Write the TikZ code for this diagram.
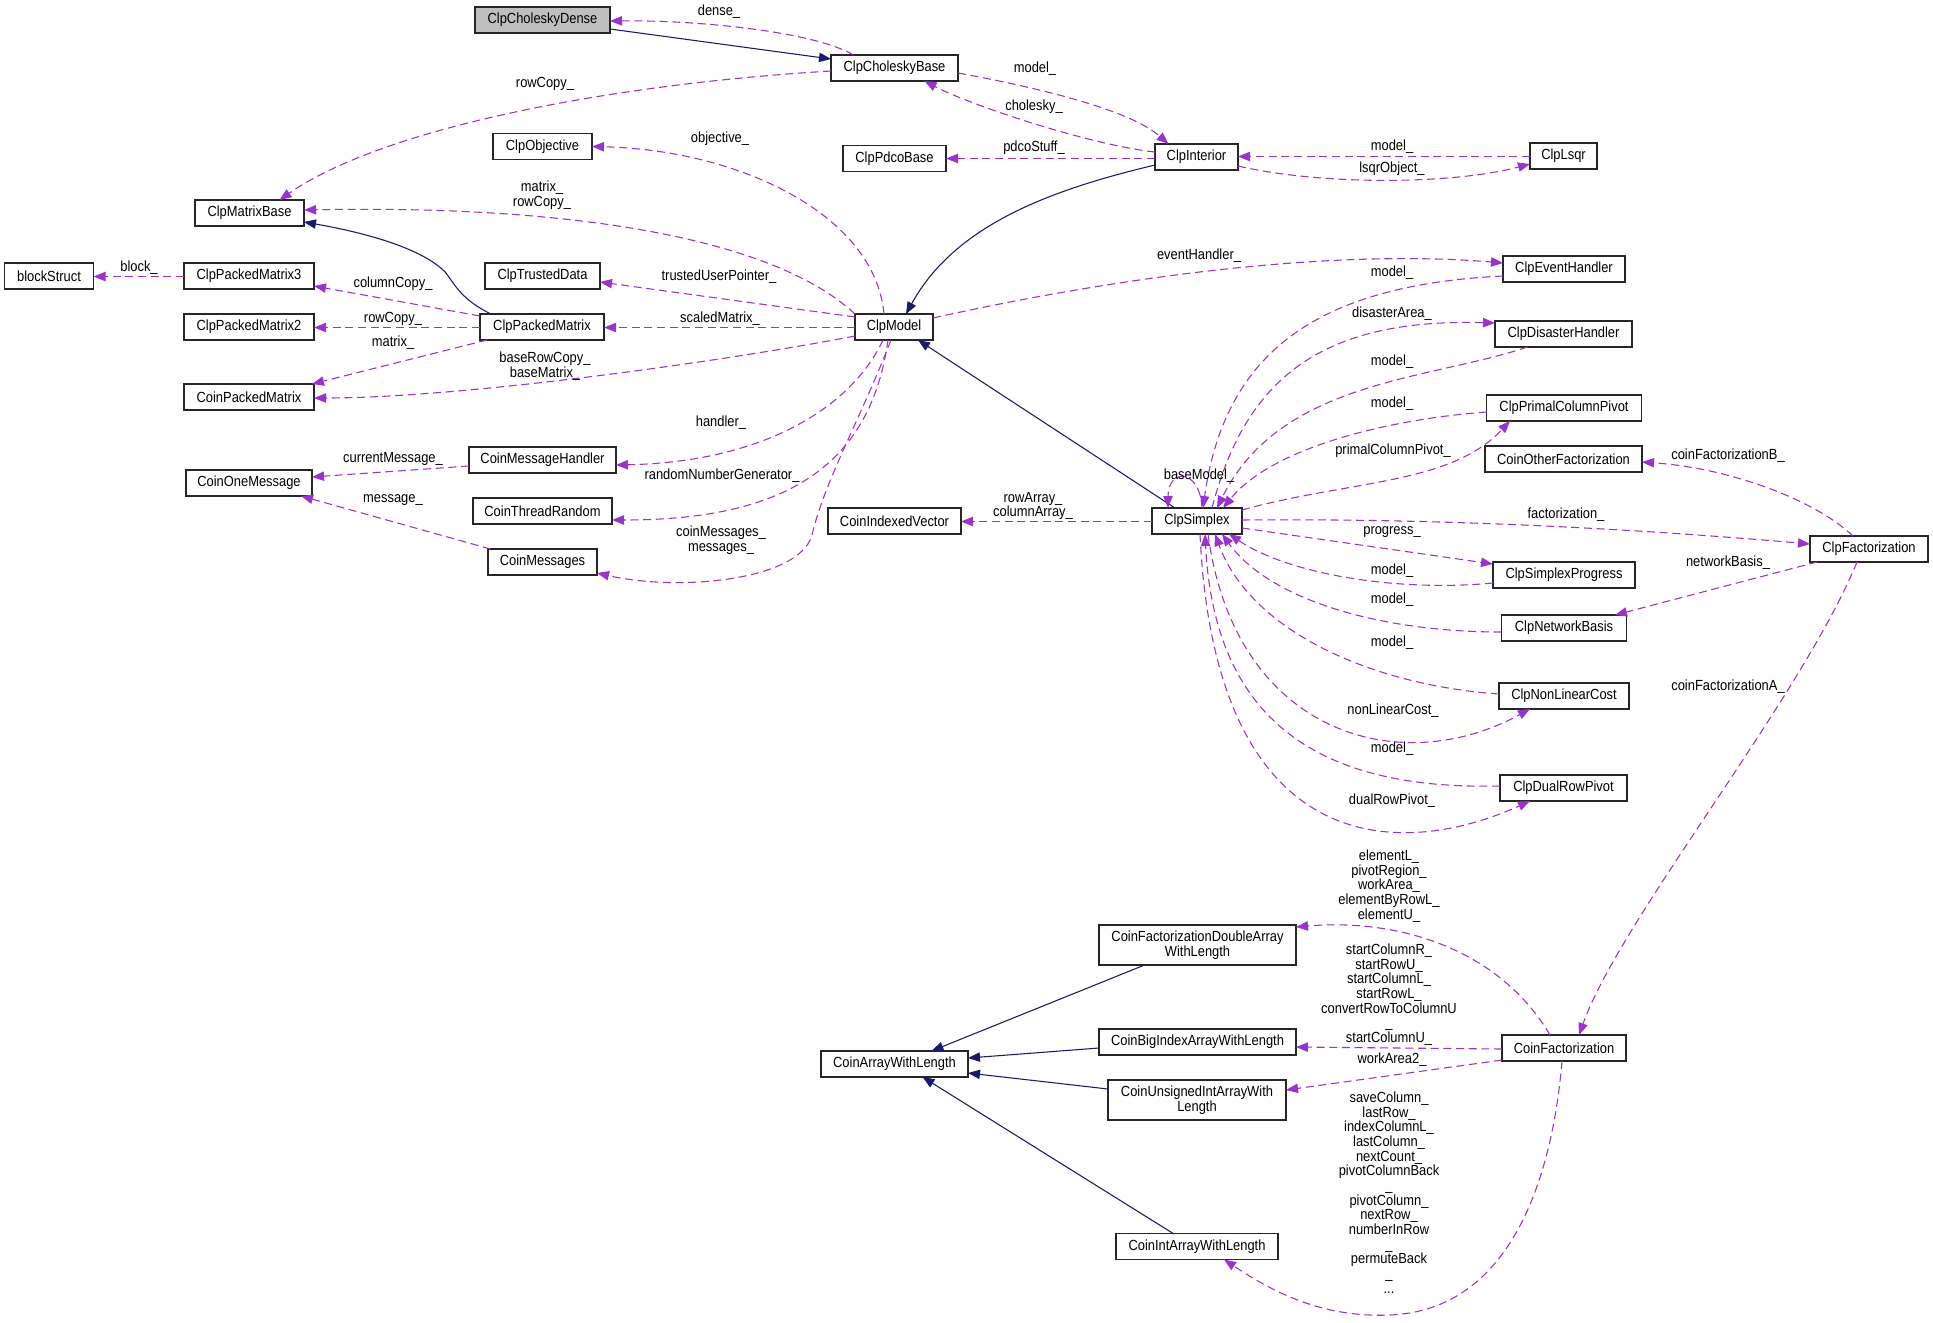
\documentclass[tikz,border=0pt]{standalone}
\usepackage{fontspec}
\setmainfont{Liberation Sans}[FakeStretch=0.88]
\usetikzlibrary{arrows.meta,calc}
\definecolor{purp}{HTML}{9A32CD}
\definecolor{navyb}{HTML}{191970}
\begin{document}
\begin{tikzpicture}[x=0.75pt,y=-0.75pt,
 every node/.style={font=\fontsize{11}{11}\selectfont},
 cls/.style={draw=black!85, line width=0.9pt, fill=white, inner sep=0pt, minimum height=19.5pt, minimum width=#1*0.75pt, align=center},
 clstwo/.style={cls=#1, minimum height=30pt},
 lab/.style={inner sep=0pt, align=center},
 inh/.style={draw=navyb, line width=0.8pt, -{Triangle[length=9pt,width=7pt]}},
 dep/.style={draw=purp, line width=0.8pt, dash pattern=on 6pt off 3.5pt, -{Triangle[length=9pt,width=7pt]}}]
\path[use as bounding box, fill=white] (0,0) rectangle (1933,1322);

% classes
\node[cls=135, fill=gray!50] (dense) at (542.5,20) {ClpCholeskyDense};
\node[cls=127] (cbase) at (894.5,68) {ClpCholeskyBase};
\node[cls=109] (mbase) at (249.5,213) {ClpMatrixBase};
\node[cls=99] (obj) at (542.5,146.5) {ClpObjective};
\node[cls=103] (pdco) at (894.5,158.5) {ClpPdcoBase};
\node[cls=83] (interior) at (1196.5,157) {ClpInterior};
\node[cls=67] (lsqr) at (1563.5,156) {ClpLsqr};
\node[cls=89] (block) at (49,276) {blockStruct};
\node[cls=130] (pm3) at (249,276) {ClpPackedMatrix3};
\node[cls=115] (trusted) at (542.5,276) {ClpTrustedData};
\node[cls=122] (event) at (1564,269) {ClpEventHandler};
\node[cls=130] (pm2) at (249,327) {ClpPackedMatrix2};
\node[cls=124] (packed) at (542,327) {ClpPackedMatrix};
\node[cls=78] (model) at (894,327) {ClpModel};
\node[cls=137] (disaster) at (1563.5,334) {ClpDisasterHandler};
\node[cls=130] (cpm) at (249,397) {CoinPackedMatrix};
\node[cls=155] (pcp) at (1564,408) {ClpPrimalColumnPivot};
\node[cls=147] (cmh) at (542.5,460) {CoinMessageHandler};
\node[cls=126] (com) at (249,483) {CoinOneMessage};
\node[cls=157] (cof) at (1563.5,459) {CoinOtherFactorization};
\node[cls=139] (ctr) at (542.5,511) {CoinThreadRandom};
\node[cls=133] (civ) at (894.5,521) {CoinIndexedVector};
\node[cls=90] (simplex) at (1197,521) {ClpSimplex};
\node[cls=118] (cfact) at (1869,549) {ClpFactorization};
\node[cls=109] (cmsg) at (542.5,562) {CoinMessages};
\node[cls=142] (sp) at (1564,575) {ClpSimplexProgress};
\node[cls=125] (nb) at (1564,628) {ClpNetworkBasis};
\node[cls=130] (nlc) at (1564,696) {ClpNonLinearCost};
\node[cls=127] (drp) at (1563.5,788) {ClpDualRowPivot};
\node[clstwo=197] (cfd) at (1197.5,945) {CoinFactorizationDoubleArray\\WithLength};
\node[cls=197] (cbia) at (1197.5,1042) {CoinBigIndexArrayWithLength};
\node[cls=147] (cawl) at (894.5,1064) {CoinArrayWithLength};
\node[clstwo=178] (cuia) at (1197,1100) {CoinUnsignedIntArrayWith\\Length};
\node[cls=162] (cia) at (1197,1246.5) {CoinIntArrayWithLength};
\node[cls=124] (cf) at (1564,1048) {CoinFactorization};

% inheritance
\draw[inh] ($(dense)+(67.5,9)$) -- ($(cbase)+(-63.5,-9)$);
\draw[inh] ($(packed)+(-51,-13)$) .. controls (462,300) and (455,285) .. (446,273) .. controls (420,245) and (350,230) .. ($(mbase)+(54.5,9)$);
\draw[inh] ($(interior)+(-41.5,8)$) .. controls (1050,190) and (955,225) .. ($(model)+(12,-13)$);
\draw[inh] ($(simplex)+(-22,-13)$) -- ($(model)+(24,13)$);
\draw[inh] ($(cfd)+(-53,20)$) -- ($(cawl)+(37,-13)$);
\draw[inh] ($(cbia)+(-98.5,6)$) -- ($(cawl)+(73.5,-6)$);
\draw[inh] ($(cuia)+(-89,-11)$) -- ($(cawl)+(73.5,9)$);
\draw[inh] ($(cia)+(-23,-12.5)$) -- ($(cawl)+(28,13)$);

% usage
\draw[dep] ($(cbase)+(-41,-13)$) .. controls (815,32) and (700,20) .. ($(dense)+(67.5,1)$);
\draw[dep] ($(cbase)+(-63.5,3)$) .. controls (600,85) and (380,130) .. ($(mbase)+(30,-13)$);
\draw[dep] ($(cbase)+(63.5,5)$) .. controls (1040,88) and (1130,110) .. ($(interior)+(-28,-13)$);
\draw[dep] ($(interior)+(-41.5,-5)$) .. controls (1090,145) and (970,105) .. ($(cbase)+(30,13)$);
\draw[dep] ($(interior)+(-41.5,1.5)$) -- ($(pdco)+(51.5,0)$);
\draw[dep] ($(lsqr)+(-33.5,0.5)$) -- ($(interior)+(41.5,-0.5)$);
\draw[dep] ($(interior)+(41.5,9)$) .. controls (1320,185) and (1450,185) .. ($(lsqr)+(-33.5,8)$);
\draw[dep] ($(model)+(-10,-13)$) .. controls (875,215) and (740,150) .. ($(obj)+(49.5,0)$);
\draw[dep] ($(model)+(-39,-13)$) .. controls (770,235) and (560,205) .. ($(mbase)+(54.5,-3)$);
\draw[dep] ($(model)+(-39,-10)$) -- ($(trusted)+(57.5,6)$);
\draw[dep] ($(model)+(-39,0.5)$) -- ($(packed)+(62,0.5)$);
\draw[dep] ($(model)+(-39,9)$) .. controls (720,362) and (460,398) .. ($(cpm)+(65,1)$);
\draw[dep] ($(packed)+(-62,-11)$) -- ($(pm3)+(65,10)$);
\draw[dep] ($(packed)+(-62,0.5)$) -- ($(pm2)+(65,0.5)$);
\draw[dep] ($(packed)+(-55,13)$) -- ($(cpm)+(63,-13)$);
\draw[dep] ($(pm3)+(-65,0.5)$) -- ($(block)+(44.5,0.5)$);
\draw[dep] ($(model)+(-11,13)$) .. controls (850,410) and (760,462) .. ($(cmh)+(73.5,5)$);
\draw[dep] ($(model)+(-6,13)$) .. controls (870,470) and (780,520) .. ($(ctr)+(69.5,9)$);
\draw[dep] ($(model)+(-3,13)$) .. controls (860,420) and (825,480) .. (812,535) .. controls (800,580) and (680,592) .. ($(cmsg)+(54.5,11)$);
\draw[dep] ($(cmh)+(-73.5,6)$) -- ($(com)+(63,-6)$);
\draw[dep] ($(cmsg)+(-52,-13)$) -- ($(com)+(52,13)$);
\draw[dep] ($(model)+(39,-9)$) .. controls (1150,270) and (1350,250) .. ($(event)+(-61,-6)$);
\draw[dep] ($(event)+(-61,7)$) .. controls (1320,285) and (1225,350) .. ($(simplex)+(6,-13)$);
\draw[dep] ($(simplex)+(15,-13)$) .. controls (1245,380) and (1320,318) .. ($(disaster)+(-68.5,-11)$);
\draw[dep] ($(disaster)+(-36,13)$) .. controls (1430,380) and (1280,380) .. ($(simplex)+(20,-13)$);
\draw[dep] ($(pcp)+(-77.5,4)$) .. controls (1380,420) and (1270,450) .. ($(simplex)+(26,-13)$);
\draw[dep] ($(simplex)+(45,-11)$) .. controls (1350,480) and (1450,485) .. ($(pcp)+(-54,13)$);
\draw[dep] ($(simplex)+(5,-13)$) .. controls (1200,468) and (1168,468) .. ($(simplex)+(-29,-13)$);
\draw[dep] ($(simplex)+(-45,0.5)$) -- ($(civ)+(66.5,0.5)$);
\draw[dep] ($(simplex)+(45,-1)$) .. controls (1450,518) and (1650,530) .. ($(cfact)+(-59,-5)$);
\draw[dep] ($(simplex)+(45,7)$) -- ($(sp)+(-71,-11)$);
\draw[dep] ($(sp)+(-71,8)$) .. controls (1400,592) and (1290,575) .. ($(simplex)+(32,13)$);
\draw[dep] ($(nb)+(-62.5,4)$) .. controls (1380,632) and (1270,600) .. ($(simplex)+(25,13)$);
\draw[dep] ($(nlc)+(-65,-2)$) .. controls (1370,685) and (1250,630) .. ($(simplex)+(18,13)$);
\draw[dep] ($(simplex)+(11,13)$) .. controls (1235,735) and (1400,780) .. ($(nlc)+(-34,13)$);
\draw[dep] ($(drp)+(-63.5,-2)$) .. controls (1330,790) and (1215,730) .. ($(simplex)+(8,13)$);
\draw[dep] ($(simplex)+(3,13)$) .. controls (1215,860) and (1400,860) .. ($(drp)+(-33.5,13)$);
\draw[dep] ($(cfact)+(-16,-13)$) .. controls (1815,500) and (1730,468) .. ($(cof)+(78.5,3)$);
\draw[dep] ($(cfact)+(-52,13)$) -- ($(nb)+(51,-13)$);
\draw[dep] ($(cfact)+(-12,13)$) .. controls (1800,700) and (1620,920) .. ($(cf)+(15,-13)$);
\draw[dep] ($(cf)+(-14,-13)$) .. controls (1500,950) and (1400,918) .. ($(cfd)+(98.5,-18)$);
\draw[dep] ($(cf)+(-62,1)$) -- ($(cbia)+(98.5,5)$);
\draw[dep] ($(cf)+(-62,12)$) -- ($(cuia)+(89,-10)$);
\draw[dep] ($(cf)+(-2,13)$) .. controls (1552,1180) and (1510,1310) .. (1390,1315) .. controls (1320,1318) and (1270,1290) .. ($(cia)+(27,13)$);

% labels
\node[lab] (l1) at (719,12) {dense\_};
\node[lab] (l2) at (545,84) {rowCopy\_};
\node[lab] (l3) at (1035,69) {model\_};
\node[lab] (l4) at (1034,107) {cholesky\_};
\node[lab] (l5) at (720,139) {objective\_};
\node[lab] (l6) at (1034,148) {pdcoStuff\_};
\node[lab] (l7) at (1392,147) {model\_};
\node[lab] (l8) at (1392,169) {lsqrObject\_};
\node[lab] (l9) at (542,195.5) {matrix\_\\rowCopy\_};
\node[lab] (l10) at (139,268) {block\_};
\node[lab] (l11) at (1199,256) {eventHandler\_};
\node[lab] (l12) at (719,277) {trustedUserPointer\_};
\node[lab] (l13) at (1392,273) {model\_};
\node[lab] (l14) at (393,284) {columnCopy\_};
\node[lab] (l15) at (1392,314) {disasterArea\_};
\node[lab] (l16) at (720,319) {scaledMatrix\_};
\node[lab] (l17) at (393,319) {rowCopy\_};
\node[lab] (l18) at (393,343) {matrix\_};
\node[lab] (l19) at (545,366) {baseRowCopy\_\\baseMatrix\_};
\node[lab] (l20) at (1392,362) {model\_};
\node[lab] (l21) at (1392,404) {model\_};
\node[lab] (l22) at (721,423) {handler\_};
\node[lab] (l23) at (393,459) {currentMessage\_};
\node[lab] (l24) at (1728,456) {coinFactorizationB\_};
\node[lab] (l25) at (1393,451) {primalColumnPivot\_};
\node[lab] (l26) at (722,476) {randomNumberGenerator\_};
\node[lab] (l27) at (1199,476) {baseModel\_};
\node[lab] (l28) at (393,500) {message\_};
\node[lab] (l29) at (1033,506) {rowArray\_\\columnArray\_};
\node[lab] (l30) at (1566,515) {factorization\_};
\node[lab] (l31) at (1392,532) {progress\_};
\node[lab] (l32) at (721,540) {coinMessages\_\\messages\_};
\node[lab] (l33) at (1728,563) {networkBasis\_};
\node[lab] (l34) at (1392,571) {model\_};
\node[lab] (l35) at (1392,600) {model\_};
\node[lab] (l36) at (1392,643) {model\_};
\node[lab] (l37) at (1728,687) {coinFactorizationA\_};
\node[lab] (l38) at (1393,711) {nonLinearCost\_};
\node[lab] (l39) at (1392,749) {model\_};
\node[lab] (l40) at (1392,801) {dualRowPivot\_};
\node[lab] (l41) at (1389,886) {elementL\_\\pivotRegion\_\\workArea\_\\elementByRowL\_\\elementU\_};
\node[lab] (l42) at (1389,994.5) {startColumnR\_\\startRowU\_\\startColumnL\_\\startRowL\_\\convertRowToColumnU\\\_\\startColumnU\_};
\node[lab] (l43) at (1392,1060) {workArea2\_};
\node[lab] (l44) at (1389,1192.5) {saveColumn\_\\lastRow\_\\indexColumnL\_\\lastColumn\_\\nextCount\_\\pivotColumnBack\\\_\\pivotColumn\_\\nextRow\_\\numberInRow\\\_\\permuteBack\\\_\\...};
\end{tikzpicture}
\end{document}
